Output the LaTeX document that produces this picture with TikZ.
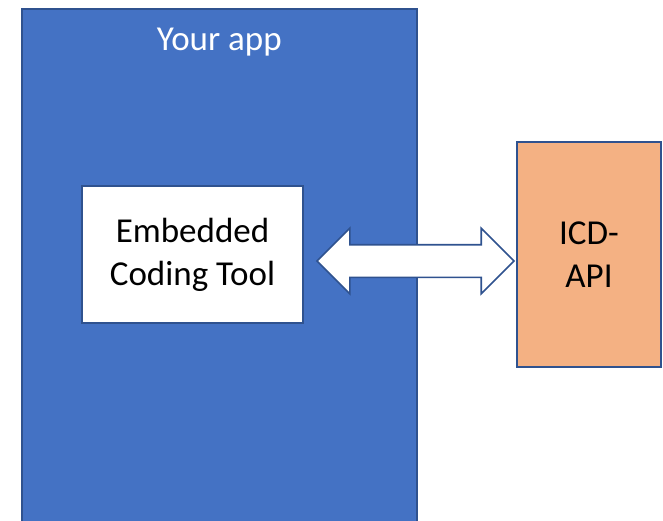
\documentclass[tikz,border=0pt]{standalone}
\usepackage{fontspec}
\setmainfont{Carlito}
\usepackage{xcolor}
\usepackage{tikz}
\usetikzlibrary{calc,positioning,shapes.arrows}
\definecolor{appblue}{HTML}{4472C4}
\definecolor{edgeblue}{HTML}{2F528F}
\definecolor{apiorange}{HTML}{F4B183}
\newcommand{\bigtext}{\fontsize{35}{43}\selectfont}

\begin{document}
\begin{tikzpicture}[
    x=1pt, y=1pt,
    nosep/.style={inner sep=0},
    box/.style={rectangle, draw=edgeblue, line width=1.6pt, align=center, font=\bigtext},
    appbox/.style={box, fill=appblue, minimum width=395, minimum height=530},
    toolbox/.style={box, fill=white, minimum width=221, minimum height=137},
    apibox/.style={box, fill=apiorange, minimum width=144, minimum height=225},
    link/.style={double arrow, draw=edgeblue, fill=white, line width=1.6pt,
        double arrow tip angle=90, double arrow head extend=16.5,
        inner xsep=0, inner ysep=15.5, minimum height=197}]
\useasboundingbox (0,0) rectangle (663,-520);
\clip (0,0) rectangle (663,-520);

\node (app) [appbox, anchor=north west] at (21,-8) {};
\node (apptitle) [nosep, text=white, font=\bigtext, anchor=north] at ([yshift=-20]app.north) {Your app};
\node (ect) [toolbox] at (192.5,-254.5) {Embedded\\Coding Tool};
\node (api) [apibox] at (589,-254.5) {ICD-\\API};

\coordinate (lefttip) at ([xshift=14, yshift=-6.5]ect.east);
\coordinate (righttip) at ([xshift=-3, yshift=-6.5]api.west);
\node (call) [link] at ($(lefttip)!0.5!(righttip)$) {};

\end{tikzpicture}
\end{document}
